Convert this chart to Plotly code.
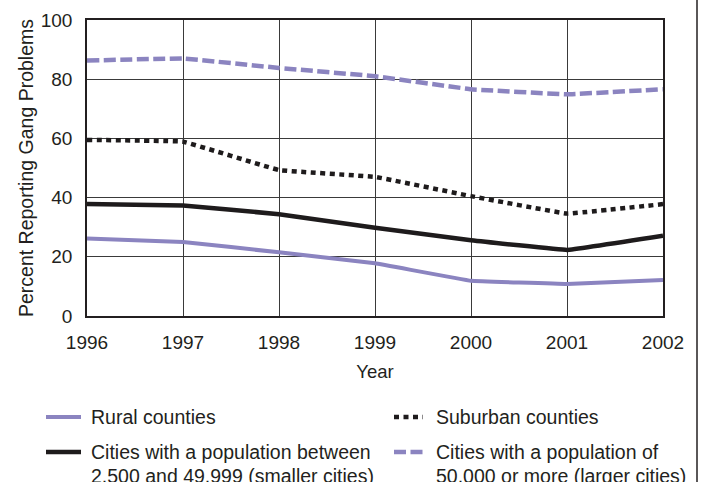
import plotly.graph_objects as go

years = [1996, 1997, 1998, 1999, 2000, 2001, 2002]
rural = [26.2, 25.0, 21.5, 17.8, 11.9, 10.8, 12.2]
suburban = [59.5, 58.9, 49.3, 47.0, 40.5, 34.6, 37.8]
smaller_cities = [37.8, 37.3, 34.4, 29.8, 25.6, 22.3, 27.1]
larger_cities = [86.3, 87.0, 83.8, 81.0, 76.6, 74.9, 76.6]

names = ["Rural counties",
         "Suburban counties",
         "Cities with a population between<br>2,500 and 49,999 (smaller cities)",
         "Cities with a population of<br>50,000 or more (larger cities)"]

purple = "#8b84c0"
black = "#1e1b1c"
ink = "#231f20"
FONT = "Liberation Sans, Arial, sans-serif"

styles = [dict(color=purple, width=4),
          dict(color=black, width=4.5, dash="5px,4.5px"),
          dict(color=black, width=4.5),
          dict(color=purple, width=4.5, dash="12px,4.5px")]
series = [rural, suburban, smaller_cities, larger_cities]

fig = go.Figure()
for nm, ys, st in zip(names, series, styles):
    fig.add_trace(go.Scatter(x=years, y=ys, name=nm, mode="lines", showlegend=False,
                             line=dict(shape="spline", smoothing=0.15, **st)))

W, H = 701, 482
L, R, T, B = 87, 38, 20, 166
PW, PH = W - L - R, H - T - B

fig.update_layout(
    width=W, height=H,
    margin=dict(l=L, r=R, t=T, b=B),
    paper_bgcolor="white", plot_bgcolor="white",
    font=dict(family=FONT, size=19, color=ink),
    showlegend=False,
)
fig.update_xaxes(range=[1996, 2002], tickvals=years, ticktext=[str(y) for y in years],
                 showgrid=True, gridcolor="#3a3a3a", gridwidth=1,
                 showline=True, linecolor=ink, linewidth=1.5, mirror=True,
                 ticks="", zeroline=False, ticklabelstandoff=8, automargin=False,
                 title=dict(text="Year", standoff=14, font=dict(size=18.5)),
                 tickfont=dict(size=19))
fig.update_yaxes(range=[0, 100], tickvals=[0, 20, 40, 60, 80, 100],
                 showgrid=True, gridcolor="#3a3a3a", gridwidth=1,
                 showline=True, linecolor=ink, linewidth=1.5, mirror=True,
                 ticks="", zeroline=False, ticklabelstandoff=9, automargin=False,
                 title=dict(text="Percent Reporting Gang Problems", standoff=2, font=dict(size=19.5)),
                 tickfont=dict(size=19))

def px(x):
    return (x - L) / PW

def py(y):
    return (H - B - y) / PH

# right-hand border line of the original page
fig.add_shape(type="line", xref="paper", yref="paper",
              x0=px(697), x1=px(697), y0=py(H), y1=py(0),
              line=dict(color=ink, width=1.5))

# manual legend (two columns)
legend_pos = [  # (sample x0, sample x1, text x, row y)
    (46, 81, 89, 417),
    (394, 423, 434, 417),
    (46, 81, 89, 452),
    (394, 423, 434, 452),
]
for (sx0, sx1, tx, ry), nm, st in zip(legend_pos, names, styles):
    fig.add_shape(type="line", xref="paper", yref="paper",
                  x0=px(sx0), x1=px(sx1), y0=py(ry), y1=py(ry), line=dict(st))
    for k, part in enumerate(nm.split("<br>")):
        fig.add_annotation(xref="paper", yref="paper", x=px(tx), y=py(ry + 24 * k),
                           text=part, showarrow=False, xanchor="left", yanchor="middle",
                           font=dict(size=19.5, color=ink))

fig.write_html("out.html", config={"displayModeBar": False},
               post_script="document.body.style.margin='0px';document.body.style.overflow='hidden';")
